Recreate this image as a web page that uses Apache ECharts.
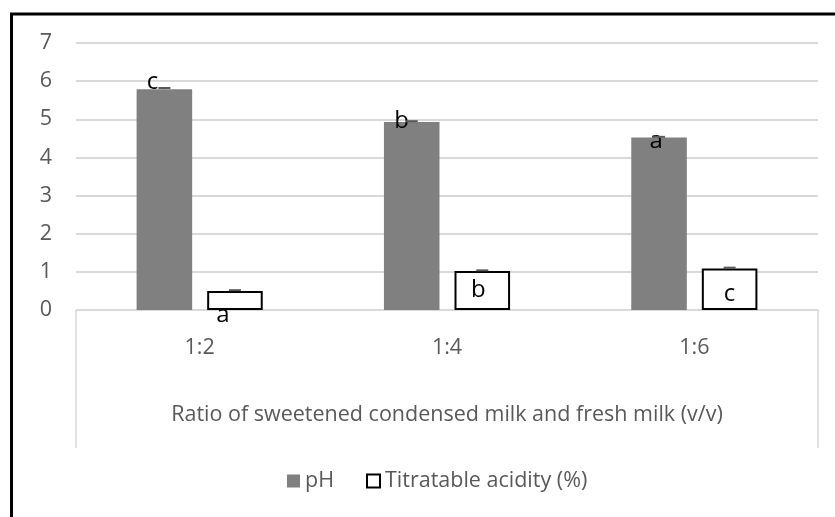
<!DOCTYPE html>
<html>
<head>
<meta charset="utf-8">
<script src="https://cdn.jsdelivr.net/npm/echarts@6/dist/echarts.min.js"></script>
<style>
  html, body { margin: 0; padding: 0; background: #fff; }
  #chart { width: 835px; height: 517px; }
</style>
</head>
<body>
<div id="chart"></div>
<script>
// data
const ratios = ['1:2', '1:4', '1:6'];
const phValues = [5.79, 4.93, 4.52];
const phErrors = [0.03, 0.02, 0.02];
const phLetters = ['c', 'b', 'a'];
const acidityValues = [0.50, 1.02, 1.09];
const acidityErrors = [0.02, 0.02, 0.02];
const acidityLetters = ['a', 'b', 'c'];

// label nudges (pixels) so letters sit where they are in the figure
const phNudge = [[-12, 5], [-10, 11], [-3, 16]];
const acidityNudge = [[-12, 12], [-4, 7], [0, 14]];

const textGrey = '#595959';
const gridGrey = '#d9d9d9';
const font = '"Open Sans", Lato, sans-serif';
const textSize = 21.5;

const CAT_GAP = 0.49;
const BAR_GAP = 0.27;

const GRID = { left: 76, right: 17, top: 43, bottom: 207 };
const W = 835, H = 517;
const FRAME_DROP = 138; // how far the category frame hangs below the axis

const chart = echarts.init(document.getElementById('chart'));

function letterData(values, letters, nudge) {
	return values.map((v, i) => ({
		value: v,
		label: { formatter: letters[i], offset: nudge[i] }
	}));
}

// error bar caps drawn on top of each bar
function errorSeries(values, errors, side) {
	return {
		type: 'custom',
		z: 5,
		data: values.map((v, i) => [i, v, errors[i]]),
		renderItem: (params, api) => {
			const band = api.size([1, 0])[0];
			const bw = band * (1 - CAT_GAP) / (2 + BAR_GAP);
			const shift = side * (bw + bw * BAR_GAP) / 2;
			const top = api.coord([api.value(0), api.value(1) + api.value(2)]);
			const base = api.coord([api.value(0), api.value(1)]);
			const x = top[0] + shift;
			const style = { stroke: '#595959', lineWidth: 2 };
			return {
				type: 'group',
				children: [
					{ type: 'line', shape: { x1: x, y1: base[1], x2: x, y2: top[1] }, style },
					{ type: 'line', shape: { x1: x - 6, y1: top[1], x2: x + 6, y2: top[1] }, style }
				]
			};
		},
		silent: true,
		tooltip: { show: false }
	};
}

const axisY = H - GRID.bottom;
const frameStyle = { stroke: gridGrey, lineWidth: 1.5 };

const option = {
	animation: false,
	backgroundColor: '#fff',
	textStyle: { fontFamily: font },
	graphic: [
		{
			type: 'line',
			shape: { x1: GRID.left, y1: axisY, x2: GRID.left, y2: axisY + FRAME_DROP },
			style: frameStyle
		},
		{
			type: 'line',
			shape: { x1: W - GRID.right, y1: axisY, x2: W - GRID.right, y2: axisY + FRAME_DROP },
			style: frameStyle
		},
		{
			type: 'rect',
			shape: { x: 11.5, y: 14, width: 900, height: 600 },
			style: { fill: null, stroke: '#000', lineWidth: 3 },
			z: 100
		}
	],
	legend: {
		bottom: 20,
		left: 282,
		itemWidth: 13,
		itemHeight: 13,
		itemGap: 32,
		textStyle: { color: textGrey, fontSize: textSize, fontFamily: font },
		data: [
			{ name: 'pH', icon: 'rect' },
			{ name: 'Titratable acidity (%)', icon: 'rect', itemStyle: { color: '#fff', borderColor: '#000', borderWidth: 2 } }
		]
	},
	grid: GRID,
	xAxis: {
		type: 'category',
		data: ratios,
		name: 'Ratio of sweetened condensed milk and fresh milk (v/v)',
		nameLocation: 'middle',
		nameGap: 94,
		nameTextStyle: { color: textGrey, fontSize: textSize, fontFamily: font },
		axisLine: { lineStyle: { color: gridGrey, width: 1.5 } },
		axisTick: { show: false },
		axisLabel: { color: textGrey, fontSize: textSize, margin: 27, fontFamily: font }
	},
	yAxis: {
		type: 'value',
		min: 0,
		max: 7,
		interval: 1,
		axisLine: { show: false },
		axisTick: { show: false },
		axisLabel: { color: textGrey, fontSize: textSize, margin: 24, fontFamily: font },
		splitLine: { lineStyle: { color: gridGrey, width: 2 } }
	},
	series: [
		{
			name: 'pH',
			type: 'bar',
			barCategoryGap: (CAT_GAP * 100) + '%',
			barGap: (BAR_GAP * 100) + '%',
			itemStyle: { color: '#808080' },
			label: { show: true, position: 'top', distance: 0, color: '#000', fontSize: 24, fontFamily: font },
			data: letterData(phValues, phLetters, phNudge)
		},
		{
			name: 'Titratable acidity (%)',
			type: 'bar',
			itemStyle: { color: '#fff', borderColor: '#000', borderWidth: 2 },
			label: { show: true, position: 'insideTop', distance: 0, color: '#000', fontSize: 24, fontFamily: font },
			data: letterData(acidityValues, acidityLetters, acidityNudge)
		},
		errorSeries(phValues, phErrors, -1),
		errorSeries(acidityValues, acidityErrors, 1)
	]
};

chart.setOption(option);
</script>
</body>
</html>
